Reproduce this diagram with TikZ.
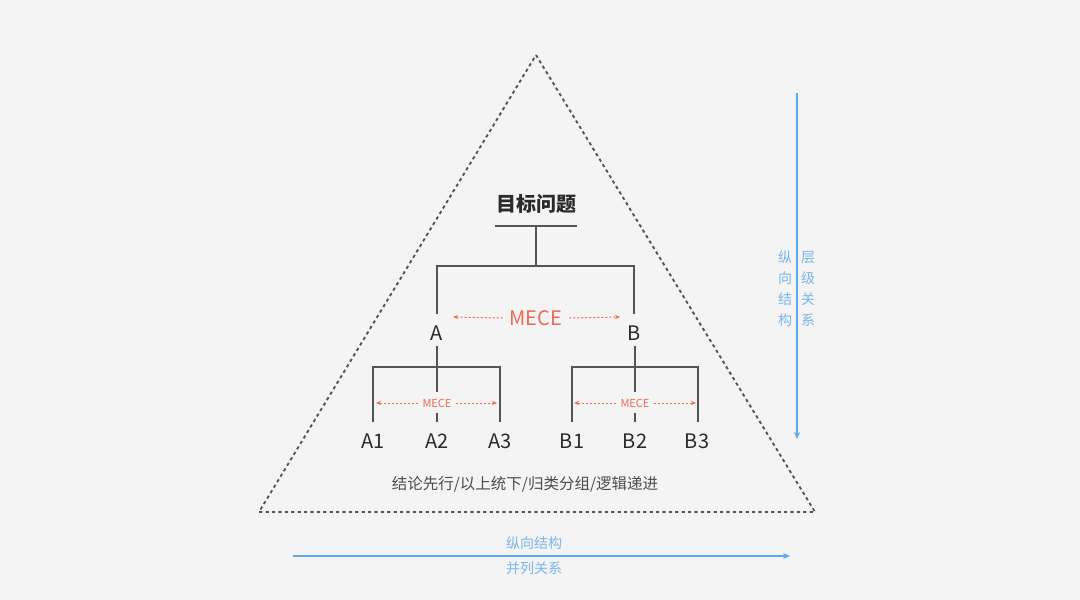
\documentclass[tikz,border=0pt]{standalone}
\usepackage{fontspec}
\setmainfont{Noto Sans CJK SC}
\usetikzlibrary{arrows.meta}
\definecolor{bg}{HTML}{F4F4F4}
\definecolor{tree}{HTML}{555555}
\definecolor{mece}{HTML}{EE6A55}
\definecolor{blu}{HTML}{5AAAF0}
\definecolor{blutext}{HTML}{7AB6EE}
\definecolor{txt}{HTML}{2A2A2A}
\tikzset{
  tri/.style={draw=tree, line width=1.9pt, dash pattern=on 3.2pt off 3.2pt},
  branch/.style={draw=tree, line width=2.8pt},
  leaf/.style={font=\fontsize{20}{24}\selectfont, text=txt, inner sep=0pt},
  mid/.style={font=\fontsize{20}{24}\selectfont, text=txt, inner sep=0pt},
  meceB/.style={font=\fontsize{20}{24}\selectfont, text=mece, inner sep=0pt},
  meceS/.style={font=\fontsize{11}{13}\selectfont, text=mece, inner sep=0pt},
  mecearrow/.style={draw=mece, line width=1pt, dash pattern=on 2pt off 2pt, -{Stealth[length=5pt,width=4pt]}},
  bluarrow/.style={draw=blu, line width=1.3pt, -{Stealth[length=7pt,width=6pt]}},
  blulabel/.style={font=\fontsize{14}{21}\selectfont, text=blutext, inner sep=0pt, align=center},
}
\begin{document}
\begin{tikzpicture}[x=1pt,y=-1pt]
\fill[bg] (0,0) rectangle (1080,600);
\useasboundingbox (0,0) rectangle (1080,600);

% triangle
\coordinate (apex) at (536,55);
\coordinate (bl) at (259,512);
\coordinate (br) at (815,512);
\draw[tri] (apex) -- (br) -- (bl) -- cycle;

% title
\node[font=\fontsize{20}{24}\selectfont\bfseries, text=txt, inner sep=0pt] (title) at (536,204) {目标问题};
\coordinate (t1) at (495,226);
\coordinate (t2) at (577,226);
\coordinate (tc) at (536,226);
\coordinate (bc) at (536,266);
\coordinate (bA) at (437,266);
\coordinate (bB) at (634,266);
\coordinate (eA) at (437,314);
\coordinate (eB) at (634,314);
\draw[branch] (t1) -- (t2);
\draw[branch] (tc) -- (bc);
\draw[branch] (eA) -- (bA) -- (bB) -- (eB);

\node[mid] (A) at (437,333) {A};
\node[mid] (B) at (634,333) {B};

\node[meceB] (m0) at (536,318) {MECE};
\coordinate (m0l) at (453,317);
\coordinate (m0r) at (620,317);
\draw[mecearrow] ([xshift=-7pt]m0.west) -- (m0l);
\draw[mecearrow] ([xshift=7pt]m0.east) -- (m0r);

% A subtree
\coordinate (aTop) at (437,346);
\coordinate (aBar) at (437,367);
\coordinate (aL) at (373,367);
\coordinate (aR) at (500,367);
\coordinate (aLe) at (373,422);
\coordinate (aRe) at (500,422);
\coordinate (aM1) at (437,392);
\coordinate (aM2) at (437,413);
\coordinate (aMe) at (437,422);
\draw[branch] (aTop) -- (aBar);
\draw[branch] (aLe) -- (aL) -- (aR) -- (aRe);
\draw[branch] (aBar) -- (aM1);
\draw[branch] (aM2) -- (aMe);
\node[meceS] (m1) at (437,403) {MECE};
\coordinate (m1l) at (376,403);
\coordinate (m1r) at (497,403);
\draw[mecearrow] ([xshift=-4pt]m1.west) -- (m1l);
\draw[mecearrow] ([xshift=4pt]m1.east) -- (m1r);

% B subtree
\coordinate (bTop) at (635,346);
\coordinate (bBar) at (635,367);
\coordinate (bL) at (572,367);
\coordinate (bR) at (698,367);
\coordinate (bLe) at (572,422);
\coordinate (bRe) at (698,422);
\coordinate (bM1) at (635,392);
\coordinate (bM2) at (635,413);
\coordinate (bMe) at (635,422);
\draw[branch] (bTop) -- (bBar);
\draw[branch] (bLe) -- (bL) -- (bR) -- (bRe);
\draw[branch] (bBar) -- (bM1);
\draw[branch] (bM2) -- (bMe);
\node[meceS] (m2) at (635,403) {MECE};
\coordinate (m2l) at (574,403);
\coordinate (m2r) at (696,403);
\draw[mecearrow] ([xshift=-4pt]m2.west) -- (m2l);
\draw[mecearrow] ([xshift=4pt]m2.east) -- (m2r);

% leaves
\node[leaf] (A1) at (373,441) {A1};
\node[leaf] (A2) at (437,441) {A2};
\node[leaf] (A3) at (500,441) {A3};
\node[leaf] (B1) at (572,441) {B1};
\node[leaf] (B2) at (635,441) {B2};
\node[leaf] (B3) at (697,441) {B3};

% bottom principle
\node[font=\fontsize{15.5}{18}\selectfont, text=tree!90!black, inner sep=0pt] (rule) at (525,484) {结论先行/以上统下/归类分组/逻辑递进};

% vertical axis
\coordinate (v1) at (797,93);
\coordinate (v2) at (797,439);
\draw[bluarrow] (v1) -- (v2);
\node[blulabel] (vl) at (785,289) {纵\\向\\结\\构};
\node[blulabel] (vr) at (808,289) {层\\级\\关\\系};

% horizontal axis
\coordinate (h1) at (293,556);
\coordinate (h2) at (790,556);
\draw[bluarrow] (h1) -- (h2);
\node[blulabel] (hl1) at (534,543) {纵向结构};
\node[blulabel] (hl2) at (534,568) {并列关系};
\end{tikzpicture}
\end{document}
